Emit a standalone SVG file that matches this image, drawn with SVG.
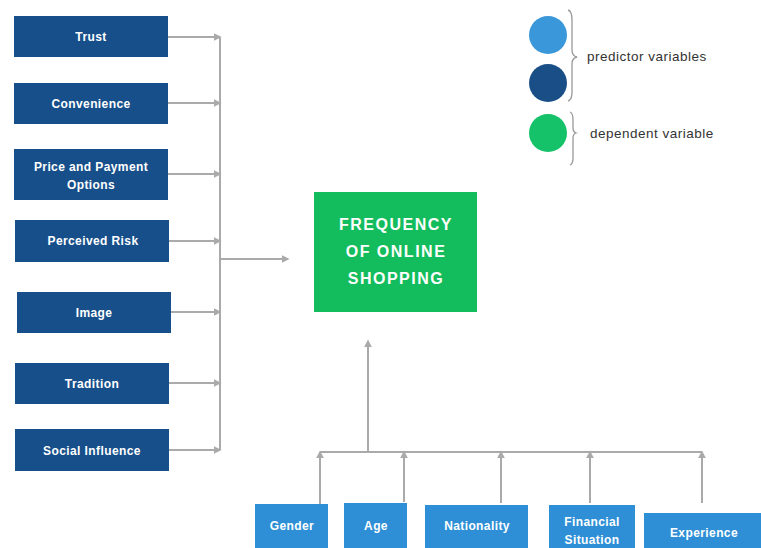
<svg xmlns="http://www.w3.org/2000/svg" width="761" height="548" viewBox="0 0 761 548">
<style>
.dk{fill:#174f8a}
.lt{fill:#2e8fd6}
.t{font-family:"Liberation Sans",Arial,sans-serif;font-weight:bold;font-size:12px;fill:#fff;text-anchor:middle;letter-spacing:0.4px}
.big{font-family:"Liberation Sans",Arial,sans-serif;font-weight:bold;font-size:16px;fill:#fff;text-anchor:middle;letter-spacing:1.5px}
.lg{font-family:"Liberation Sans",Arial,sans-serif;font-size:13.5px;fill:#333;letter-spacing:0.5px}
.c{stroke:#aaaaaa;stroke-width:2;fill:none}
.b{stroke:#999;stroke-width:1.3;fill:none}
</style>
<defs>
<marker id="ah" viewBox="0 0 10 10" refX="8" refY="5" markerWidth="4" markerHeight="4" orient="auto" markerUnits="strokeWidth">
<path d="M0,0 L10,5 L0,10 z" fill="#aaaaaa"/>
</marker>
</defs>
<rect width="761" height="548" fill="#fff"/>
<g id="connectors">
<path class="c" d="M220,37 V450"/>
<path class="c" d="M168,37 H220" marker-end="url(#ah)"/>
<path class="c" d="M168,103 H220" marker-end="url(#ah)"/>
<path class="c" d="M168,174 H220" marker-end="url(#ah)"/>
<path class="c" d="M169,241 H220" marker-end="url(#ah)"/>
<path class="c" d="M171,312 H220" marker-end="url(#ah)"/>
<path class="c" d="M169,383 H220" marker-end="url(#ah)"/>
<path class="c" d="M169,450 H220" marker-end="url(#ah)"/>
<path class="c" d="M220,259 H288" marker-end="url(#ah)"/>
<path class="c" d="M320,452 H702"/>
<path class="c" d="M368,452 V341" marker-end="url(#ah)"/>
<path class="c" d="M320,504 V452" marker-end="url(#ah)"/>
<path class="c" d="M404,502 V452" marker-end="url(#ah)"/>
<path class="c" d="M501,503 V452" marker-end="url(#ah)"/>
<path class="c" d="M590,503 V452" marker-end="url(#ah)"/>
<path class="c" d="M702,503 V452" marker-end="url(#ah)"/>
</g>
<g id="trust"><rect class="dk" x="14" y="16" width="154" height="41"/><text class="t" x="91" y="41">Trust</text></g>
<g id="convenience"><rect class="dk" x="14" y="83" width="154" height="41"/><text class="t" x="91" y="108">Convenience</text></g>
<g id="price"><rect class="dk" x="14" y="149" width="154" height="51"/><text class="t" x="91" y="171">Price and Payment</text><text class="t" x="91" y="189">Options</text></g>
<g id="risk"><rect class="dk" x="15" y="220" width="154" height="42"/><text class="t" x="93" y="245">Perceived Risk</text></g>
<g id="image"><rect class="dk" x="17" y="292" width="154" height="41"/><text class="t" x="94" y="317">Image</text></g>
<g id="tradition"><rect class="dk" x="15" y="363" width="154" height="41"/><text class="t" x="92" y="388">Tradition</text></g>
<g id="social"><rect class="dk" x="15" y="429" width="154" height="42"/><text class="t" x="92" y="455">Social Influence</text></g>
<g id="frequency"><rect x="314" y="192" width="163" height="120" fill="#13bc5c"/>
<text class="big" x="396" y="230">FREQUENCY</text><text class="big" x="396" y="257">OF ONLINE</text><text class="big" x="396" y="284">SHOPPING</text></g>
<g id="gender"><rect class="lt" x="255" y="504" width="73" height="44"/><text class="t" x="292" y="530">Gender</text></g>
<g id="age"><rect class="lt" x="344" y="503" width="63" height="45"/><text class="t" x="376" y="530">Age</text></g>
<g id="nationality"><rect class="lt" x="425" y="505" width="103" height="43"/><text class="t" x="477" y="530">Nationality</text></g>
<g id="financial"><rect class="lt" x="549" y="505" width="86" height="43"/><text class="t" x="592" y="526">Financial</text><text class="t" x="592" y="544">Situation</text></g>
<g id="experience"><rect class="lt" x="644" y="513" width="117" height="35"/><text class="t" x="704" y="537">Experience</text></g>
<g id="legend">
<circle cx="548" cy="35" r="19" fill="#3a97da"/>
<circle cx="548" cy="83" r="19" fill="#194f86"/>
<circle cx="548" cy="133" r="19" fill="#15c26a"/>
<path class="b" d="M568,10 Q572,11 572,20 V50 Q572,56 577,57 Q572,58 572,64 V92 Q572,100 568,101"/>
<path class="b" d="M570,112 Q573,113 573,120 V128 Q573,132 576,133 Q573,134 573,138 V158 Q573,164 570,165"/>
<text class="lg" x="587" y="61">predictor variables</text>
<text class="lg" x="590" y="138">dependent variable</text>
</g>
</svg>
